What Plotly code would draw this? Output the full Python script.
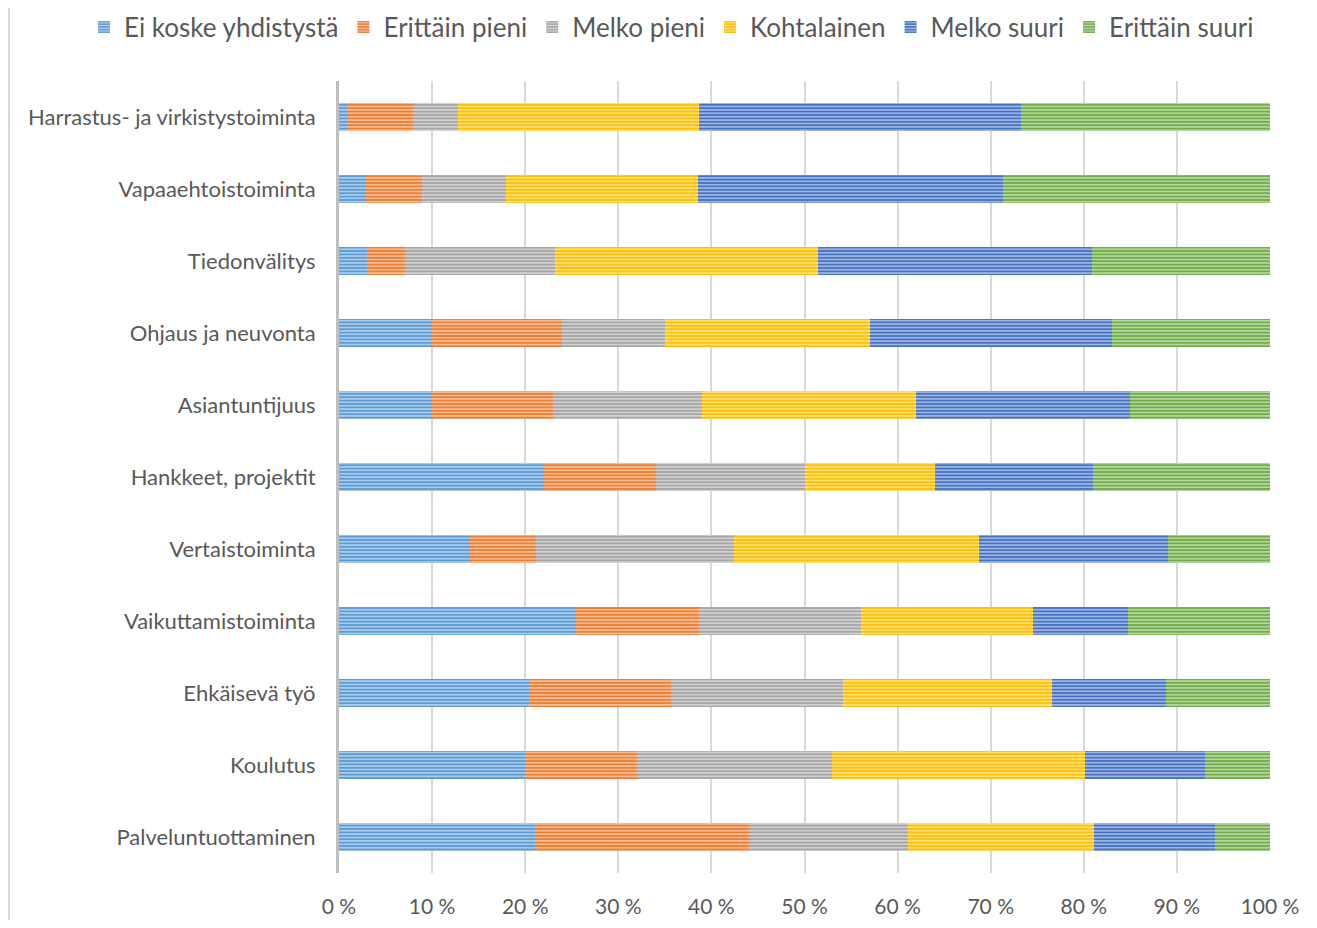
import plotly.graph_objects as go

categories = [
    "Harrastus- ja virkistystoiminta",
    "Vapaaehtoistoiminta",
    "Tiedonvälitys",
    "Ohjaus ja neuvonta",
    "Asiantuntijuus",
    "Hankkeet, projektit",
    "Vertaistoiminta",
    "Vaikuttamistoiminta",
    "Ehkäisevä työ",
    "Koulutus",
    "Palveluntuottaminen",
]

ei_koske = [1.0, 2.9, 3.0, 10.0, 10.0, 22.0, 14.1, 25.5, 20.4, 20.0, 21.0]
erittain_pieni = [6.9, 6.0, 4.1, 14.0, 13.0, 12.0, 7.1, 13.2, 15.3, 12.0, 23.0]
melko_pieni = [4.9, 9.0, 16.1, 11.0, 16.0, 16.0, 21.2, 17.4, 18.4, 21.0, 17.1]
kohtalainen = [25.9, 20.7, 28.3, 22.0, 23.0, 14.0, 26.3, 18.4, 22.5, 27.1, 20.0]
melko_suuri = [34.6, 32.7, 29.4, 26.0, 23.0, 17.0, 20.3, 10.2, 12.2, 12.9, 13.0]
erittain_suuri = [26.7, 28.7, 19.2, 17.0, 15.0, 19.0, 11.0, 15.3, 11.2, 7.0, 5.9]

series_names = ["Ei koske yhdistystä", "Erittäin pieni", "Melko pieni",
                "Kohtalainen", "Melko suuri", "Erittäin suuri"]
series_values = [ei_koske, erittain_pieni, melko_pieni, kohtalainen, melko_suuri, erittain_suuri]
colors = ["#5B9BD5", "#ED7D31", "#A5A5A5", "#FFC000", "#4472C4", "#70AD47"]
x_ticks = [0, 10, 20, 30, 40, 50, 60, 70, 80, 90, 100]
x_tick_text = [f"{t} %" for t in x_ticks]

FONT = "Lato"
TXT = "#595959"

W, H = 1301, 912
L, R, T, B = 331, 39, 73, 47
PW, PH = W - L - R, H - T - B

fig = go.Figure()
for name, vals, col in zip(series_names, series_values, colors):
    fig.add_trace(go.Bar(
        name=name,
        y=categories,
        x=vals,
        orientation="h",
        marker=dict(
            color=col,
            line=dict(width=0),
            pattern=dict(shape="-", fillmode="overlay", fgcolor="#FFFFFF",
                         fgopacity=0.6, size=3.4, solidity=0.4),
        ),
    ))

fig.update_layout(
    barmode="stack",
    bargap=0.62,
    width=W,
    height=H,
    margin=dict(l=L, r=R, t=T, b=B, autoexpand=False),
    paper_bgcolor="white",
    plot_bgcolor="white",
    font=dict(family=FONT, color=TXT, size=22),
    legend=dict(
        orientation="h",
        traceorder="normal",
        xref="paper", yref="paper",
        x=(76 - L) / PW, xanchor="left",
        y=1 + (T - 19) / PH, yanchor="middle",
        font=dict(size=26, color=TXT, family=FONT),
        itemwidth=30,
        tracegroupgap=0,
    ),
    xaxis=dict(
        range=[0, 100],
        tickvals=x_ticks,
        ticktext=x_tick_text,
        showgrid=True,
        gridcolor="#D9D9D9",
        gridwidth=1.5,
        zeroline=False,
        showline=False,
        tickfont=dict(size=21, color=TXT),
        ticks="",
        ticklabelstandoff=19,
        automargin=False,
    ),
    yaxis=dict(
        categoryorder="array",
        categoryarray=categories,
        autorange="reversed",
        showgrid=False,
        showline=True,
        linecolor="#BFBFBF",
        linewidth=3,
        zeroline=False,
        ticks="",
        tickfont=dict(size=22, color=TXT),
        ticklabelstandoff=16,
        automargin=False,
    ),
    shapes=[dict(type="line", xref="paper", yref="paper",
                 x0=(-L + 1) / PW, x1=(-L + 1) / PW,
                 y0=-B / PH, y1=1 + T / PH,
                 line=dict(color="#D9D9D9", width=2))],
)

fig.write_html("out.html")
